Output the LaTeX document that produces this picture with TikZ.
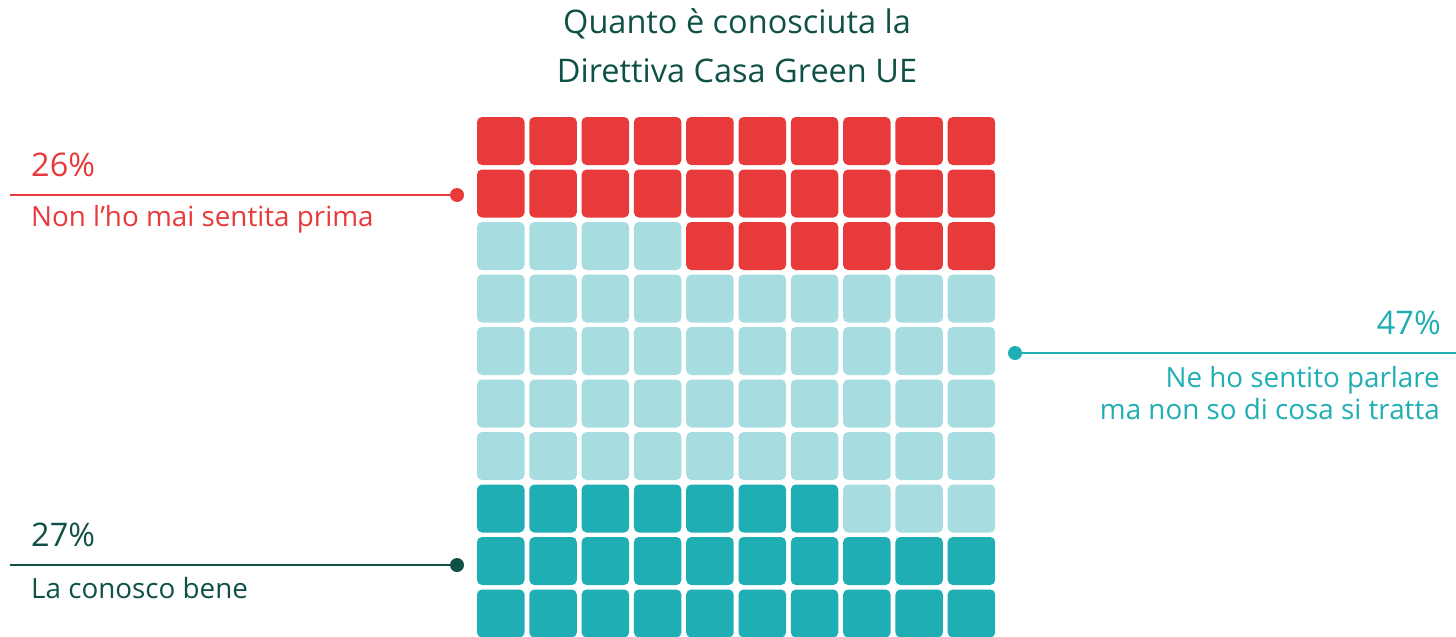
\documentclass[tikz,border=0pt]{standalone}
\usepackage{fontspec}
\setmainfont{Open Sans}
\definecolor{cred}{HTML}{E8393B}
\definecolor{clight}{HTML}{A7DDE1}
\definecolor{cteal}{HTML}{20AEB5}
\definecolor{cdark}{HTML}{0F5147}
\newcommand{\wcell}[3]{\fill[#1, rounded corners=5pt] ({477+52.3*#3},{117+52.5*#2}) rectangle ++(47.5,48);}
\begin{document}
\begin{tikzpicture}[x=1pt,y=-1pt,
  pct/.style={inner sep=0, font=\fontsize{32.5}{38}\selectfont},
  lbl/.style={inner sep=0, font=\fontsize{27.8}{32}\selectfont},
  ttl/.style={inner sep=0, anchor=base, text=cdark, font=\fontsize{32.5}{36}\selectfont},
  dot/.style={circle, inner sep=0, minimum size=14pt},
  leader/.style={line width=2.5pt}]
\useasboundingbox (0,0) rectangle (1456,637);
% title
\node[ttl] (t1) at (737,33) {Quanto è conosciuta la};
\node[ttl] (t2) at (737,82) {Direttiva Casa Green UE};
% waffle
\foreach \r in {0,1} \foreach \c in {0,...,9} {\wcell{cred}{\r}{\c}}
\foreach \c in {4,...,9} {\wcell{cred}{2}{\c}}
\foreach \c in {0,...,3} {\wcell{clight}{2}{\c}}
\foreach \r in {3,...,6} \foreach \c in {0,...,9} {\wcell{clight}{\r}{\c}}
\foreach \c in {7,8,9} {\wcell{clight}{7}{\c}}
\foreach \c in {0,...,6} {\wcell{cteal}{7}{\c}}
\foreach \r in {8,9} \foreach \c in {0,...,9} {\wcell{cteal}{\r}{\c}}
% 26%
\node[pct, anchor=base west, text=cred] (p26) at (31,176) {26\%};
\node[lbl, anchor=base west, text=cred] (n26) at (31,226) {Non l’ho mai sentita prima};
\node[dot, fill=cred] (d26) at (457,195) {};
\coordinate (e26) at (10,195);
\draw[leader, cred] (e26) -- (d26.center);
% 47%
\node[pct, anchor=base east, text=cteal] (p47) at (1441,334) {47\%};
\node[lbl, anchor=base east, text=cteal] (n47a) at (1440,387) {Ne ho sentito parlare};
\node[lbl, anchor=base east, text=cteal] (n47b) at (1440,419) {ma non so di cosa si tratta};
\node[dot, fill=cteal] (d47) at (1015,353) {};
\coordinate (e47) at (1456,353);
\draw[leader, cteal] (d47.center) -- (e47);
% 27%
\node[pct, anchor=base west, text=cdark] (p27) at (31,546) {27\%};
\node[lbl, anchor=base west, text=cdark] (n27) at (31,598) {La conosco bene};
\node[dot, fill=cdark] (d27) at (457,565) {};
\coordinate (e27) at (10,565);
\draw[leader, cdark] (e27) -- (d27.center);
\end{tikzpicture}
\end{document}
